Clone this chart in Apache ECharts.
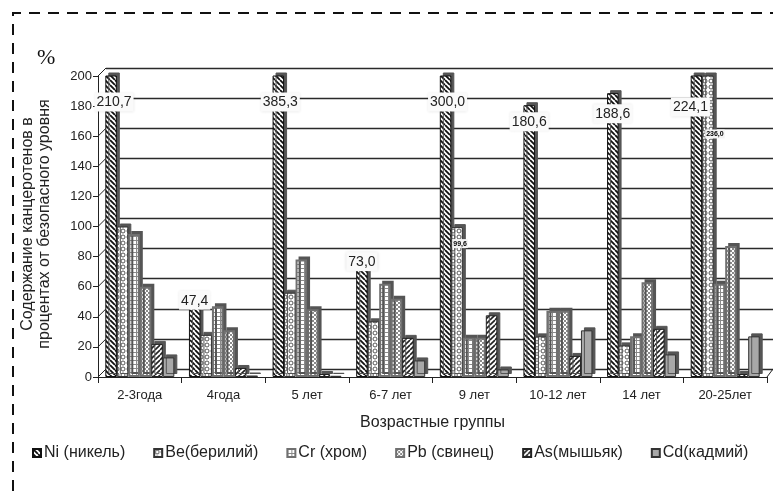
<!DOCTYPE html>
<html>
<head>
<meta charset="utf-8">
<script src="https://cdn.jsdelivr.net/npm/echarts@6/dist/echarts.min.js"></script>
<style>
  html, body { margin: 0; padding: 0; background: #fff; }
  #chart { width: 773px; height: 491px; }
</style>
</head>
<body>
<div id="chart"></div>
<script>
// Age groups and carcinogen content, % of the safe level
const categories = ['2-3года', '4года', '5 лет', '6-7 лет', '9 лет', '10-12 лет', '14 лет', '20-25лет'];
const seriesNames = ['Ni (никель)', 'Be(берилий)', 'Cr (хром)', 'Pb (свинец)', 'As(мышьяк)', 'Cd(кадмий)'];
const niValues = [210.7, 47.4, 385.3, 73.0, 300.0, 180.6, 188.6, 224.1];
const beValues = [100, 28, 56, 37, 99.6, 27, 21, 236.0];
const crValues = [95, 47, 78, 62, 26, 44, 27, 62];
const pbValues = [60, 31, 45, 52, 26, 44, 63, 87];
const asValues = [22, 6, 2, 26, 41, 14, 32, 2];
const cdValues = [13, 1, 0.8, 11, 5, 31, 15, 27];
const yMax = 200;
const yStep = 20;
const yTitle = ['Содержание канцеротенов в', 'процентах от безопасного уровня'];

function pattern(w, h, draw) {
  const c = document.createElement('canvas');
  c.width = w; c.height = h;
  const g = c.getContext('2d');
  g.fillStyle = '#fff';
  g.fillRect(0, 0, w, h);
  draw(g, w, h);
  return { image: c, repeat: 'repeat' };
}
function stripes(dir, lw, color) {
  return pattern(5, 5, (g) => {
    g.strokeStyle = color; g.lineWidth = lw;
    g.beginPath();
    for (let i = -10; i <= 10; i += 5) {
      if (dir > 0) { g.moveTo(i, 0); g.lineTo(i + 5, 5); }
      else { g.moveTo(i + 5, 0); g.lineTo(i, 5); }
    }
    g.stroke();
  });
}
const fills = [
  stripes(1, 1.8, '#111'),
  pattern(6, 6, (g) => { g.strokeStyle = '#555'; g.lineWidth = 1; g.beginPath(); g.arc(3, 3, 2, 0, Math.PI * 2); g.stroke(); }),
  pattern(4, 4, (g) => { g.fillStyle = '#8a8a8a'; g.fillRect(0, 0, 4, 1); g.fillRect(0, 0, 1, 4); }),
  pattern(4, 4, (g) => { g.fillStyle = '#8a8a8a'; g.fillRect(0, 0, 2, 2); g.fillRect(2, 2, 2, 2); }),
  stripes(-1, 1.6, '#222'),
  '#a8a8a8'
];
const borders = ['#111', '#333', '#707070', '#707070', '#222', '#333'];
const borderWidths = [1, 1, 2, 2, 1, 1];

const fmt = (v) => v.toFixed(1).replace('.', ',');
const labelBox = {
  show: true, color: '#222', fontSize: 14, fontFamily: 'Liberation Sans, Arial',
  backgroundColor: '#fafafa', padding: [3, 2, 2, 2],
  shadowColor: 'rgba(0,0,0,0.12)', shadowBlur: 3,
  formatter: (p) => fmt(p.value)
};
// where each Ni label sits relative to its bar
const niLabelPlace = [
  { position: 'insideTop', distance: 17, offset: [3, 0] },
  { position: 'top', distance: -4 },
  { position: 'insideTop', distance: 17, offset: [2, 0] },
  { position: 'top', distance: -4 },
  { position: 'insideTop', distance: 17, offset: [2, 0] },
  { position: 'insideTop', distance: 7 },
  { position: 'insideTop', distance: 11 },
  { position: 'insideTop', distance: 22, offset: [-6, 0] }
];
const smallLabel = {
  show: true, color: '#000', fontSize: 7, fontWeight: 'bold', fontFamily: 'Liberation Sans, Arial',
  backgroundColor: '#f4f4f4', padding: [1, 1], formatter: (p) => fmt(p.value)
};
const beLabelPlace = { 4: { position: 'insideTop', distance: 12, offset: [3, 0] }, 7: { position: 'insideTop', distance: 54, offset: [7, 0] } };

const allValues = [niValues, beValues, crValues, pbValues, asValues, cdValues];
const series = allValues.map((vals, si) => ({
  name: seriesNames[si],
  type: 'bar',
  xAxisIndex: 0, yAxisIndex: 0,
  barWidth: 11.5,
  barGap: '0%',
  clip: true,
  itemStyle: {
    color: fills[si], borderColor: borders[si], borderWidth: borderWidths[si],
    shadowColor: '#555', shadowOffsetX: 3, shadowOffsetY: -3, shadowBlur: 0
  },
  data: vals.map((v, i) => {
    if (si === 0) return { value: v, label: Object.assign({}, labelBox, niLabelPlace[i]) };
    if (si === 1 && beLabelPlace[i]) return { value: v, label: Object.assign({}, smallLabel, beLabelPlace[i]) };
    return v;
  }),
  z: 3
}));

const chart = echarts.init(document.getElementById('chart'), null, { renderer: 'canvas' });
const option = {
  backgroundColor: '#fff',
  animation: false,
  textStyle: { fontFamily: 'Liberation Sans, Arial' },
  grid: [
    { left: 98, right: 6, top: 76, bottom: 114 },   // front plane: bars, axes
    { left: 106, right: 0, top: 68, bottom: 122 }    // back wall: gridlines
  ],
  legend: {
    left: 27, top: 440, itemWidth: 8, itemHeight: 8, itemGap: 28,
    icon: 'rect',
    textStyle: { fontSize: 16, color: '#222', fontFamily: 'Liberation Sans, Arial', padding: [0, 0, 0, -2] },
    data: seriesNames
  },
  xAxis: [
    {
      type: 'category', gridIndex: 0, data: categories,
      axisLine: { lineStyle: { color: '#222', width: 1 } },
      axisTick: { show: true, length: 6, lineStyle: { color: '#222' } },
      axisLabel: { fontSize: 13, color: '#222', margin: 12 },
      name: 'Возрастные группы', nameLocation: 'middle', nameGap: 38,
      nameTextStyle: { fontSize: 16, color: '#222' },
      z: 4
    },
    { type: 'value', gridIndex: 1, show: false, min: 0, max: 1 }
  ],
  yAxis: [
    {
      type: 'value', gridIndex: 0, min: 0, max: yMax, interval: yStep,
      axisLine: { show: true, lineStyle: { color: '#222' } },
      axisTick: { show: true, length: 5, lineStyle: { color: '#222' } },
      axisLabel: { fontSize: 13, color: '#222', margin: 6 },
      splitLine: { show: false }
    },
    {
      type: 'value', gridIndex: 1, min: 0, max: yMax, interval: yStep,
      axisLine: { show: false }, axisTick: { show: false }, axisLabel: { show: false },
      splitLine: { show: true, lineStyle: { color: '#2a2a2a', width: 1.3 } }
    }
  ],
  series: series,
  graphic: [
    { type: 'text', left: 37, top: 47, style: { text: '%', font: '22px "Liberation Serif", serif', fill: '#111' } },
    { type: 'text', x: 28, y: 224, rotation: Math.PI / 2,
      style: { text: yTitle[0], font: '16px "Liberation Sans", Arial', fill: '#222', align: 'center', verticalAlign: 'middle' } },
    { type: 'text', x: 45, y: 224, rotation: Math.PI / 2,
      style: { text: yTitle[1], font: '16px "Liberation Sans", Arial', fill: '#222', align: 'center', verticalAlign: 'middle' } },
    { type: 'polyline', shape: { points: [[13, 491], [13, 13], [773, 13]] },
      style: { stroke: '#111', lineWidth: 2, lineDash: [11, 8], fill: null }, z: 10 }
  ]
};
chart.setOption(option);

// slanted connectors between the front axis and the back wall
const front = chart.getModel().getComponent('grid', 0).coordinateSystem.getRect();
const back = chart.getModel().getComponent('grid', 1).coordinateSystem.getRect();
const links = [];
for (let v = 0; v <= yMax; v += yStep) {
  const yf = chart.convertToPixel({ yAxisIndex: 0 }, v);
  const yb = chart.convertToPixel({ yAxisIndex: 1 }, v);
  links.push({ type: 'line', shape: { x1: front.x, y1: yf, x2: back.x, y2: yb },
    style: { stroke: '#222', lineWidth: 1 }, z: 2 });
}
links.push({ type: 'line', shape: { x1: front.x + front.width, y1: front.y + front.height, x2: back.x + back.width, y2: back.y + back.height },
  style: { stroke: '#222', lineWidth: 1 }, z: 2 });
chart.setOption({ graphic: option.graphic.concat(links) });
</script>
</body>
</html>
